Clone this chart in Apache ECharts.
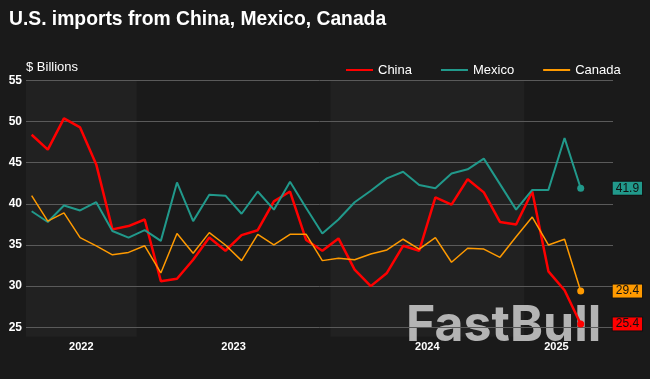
<!DOCTYPE html>
<html>
<head>
<meta charset="utf-8">
<script src="https://cdn.jsdelivr.net/npm/echarts@6/dist/echarts.min.js"></script>
<style>
html,body{margin:0;padding:0;background:#1a1a1a;}
#chart{width:650px;height:379px;}
</style>
</head>
<body>
<div id="chart"></div>
<script>
// ---- data ----
var months = ['2022-06','2022-07','2022-08','2022-09','2022-10','2022-11','2022-12',
  '2023-01','2023-02','2023-03','2023-04','2023-05','2023-06','2023-07','2023-08','2023-09','2023-10','2023-11','2023-12',
  '2024-01','2024-02','2024-03','2024-04','2024-05','2024-06','2024-07','2024-08','2024-09','2024-10','2024-11','2024-12',
  '2025-01','2025-02','2025-03','2025-04'];
var china  = [48.4,46.6,50.4,49.3,44.8,36.9,37.3, 38.1,30.6,30.9,33.2,35.9,34.3,36.2,36.8,40.3,41.5,35.6,34.3, 35.8,32.0,30.0,31.6,34.9,34.3,40.8,39.9,43.0,41.4,37.8,37.5, 41.5,31.8,29.5,25.4];
var mexico = [39.1,37.8,39.8,39.2,40.2,36.7,35.9, 36.8,35.5,42.6,37.9,41.1,41.0,38.8,41.5,39.3,42.7,39.5,36.4, 38.1,40.2,41.6,43.1,43.9,42.3,41.9,43.7,44.2,45.5,42.4,39.3, 41.7,41.7,48.0,41.9];
var canada = [41.0,37.9,38.9,35.9,34.9,33.8,34.1, 34.9,31.6,36.4,34.0,36.5,35.0,33.1,36.3,35.0,36.3,36.3,33.1, 33.4,33.2,33.9,34.4,35.7,34.5,35.9,32.9,34.6,34.5,33.5,36.0, 38.4,35.0,35.7,29.4];
var seriesNames = ['China','Mexico','Canada'];
var yTicks = [25,30,35,40,45,50,55];

// ---- layout/styling ----
var X_MIN = -0.35, X_MAX = 36;
var colors = {China:'#ff0000', Mexico:'#21998b', Canada:'#ff9a00'};
var widths = {China:2.5, Mexico:2, Canada:1.5};

// year bands derived from months
var years = [];
months.forEach(function(m, i){
  var y = m.slice(0,4);
  var last = years[years.length-1];
  if (!last || last.year !== y) years.push({year:y, first:i, last:i});
  else last.last = i;
});
years.forEach(function(b){
  b.from = Math.max(X_MIN, b.first - 0.5);
  b.to = Math.min(X_MAX, b.last + 0.5);
  b.mid = (b.from + b.to) / 2;
});
var yearMids = years.map(function(b){ return b.mid; });

function toPairs(arr){ return arr.map(function(v,i){ return [i, v]; }); }
var dataMap = {China:china, Mexico:mexico, Canada:canada};

var series = [{
  name: 'bands', type: 'line', data: [], z: -3, silent: true,
  markArea: {
    silent: true, z: -3,
    itemStyle: {color: '#212121'},
    data: years.filter(function(b, i){ return i % 2 === 0; }).map(function(b){
      return [{xAxis: b.from}, {xAxis: b.to}];
    })
  }
}];
seriesNames.forEach(function(name, si){
  var arr = dataMap[name];
  series.push({
    name: name,
    type: 'line',
    data: toPairs(arr),
    symbol: 'circle',
    symbolSize: function(val, p){ return p.dataIndex === arr.length-1 ? 7 : 0; },
    showSymbol: true,
    lineStyle: {color: colors[name], width: widths[name]},
    itemStyle: {color: colors[name]},
    z: 3 + si,
    endLabel: {
      show: true,
      distance: 32,
      formatter: function(p){ return p.value[1].toFixed(1); },
      color: '#111',
      fontSize: 12,
      fontFamily: 'Liberation Sans, Arial, sans-serif',
      backgroundColor: colors[name],
      borderColor: 'rgba(0,0,0,0.35)',
      borderWidth: 1,
      padding: [1, 3, 0, 3],
      lineHeight: 12
    }
  });
});

var chart = echarts.init(document.getElementById('chart'), null, {renderer:'canvas'});
chart.setOption({
  animation: false,
  backgroundColor: '#1a1a1a',
  textStyle: {fontFamily: 'Liberation Sans, Arial, sans-serif'},
  title: {
    text: 'U.S. imports from China, Mexico, Canada',
    left: 9, top: 10, padding: 0,
    textStyle: {color:'#ffffff', fontSize: 19.3, fontWeight: 'bold', fontFamily: 'Liberation Sans, Arial, sans-serif'}
  },
  legend: {
    data: seriesNames,
    left: 346, top: 63.5, padding: 0,
    icon: 'rect', itemWidth: 27, itemHeight: 2, itemGap: 29,
    textStyle: {color:'#ffffff', fontSize: 13},
    selectedMode: false
  },
  graphic: [
    {type:'text', left: 26, top: 61, style:{text:'$ Billions', fill:'#ffffff', font:'13px "Liberation Sans", Arial, sans-serif'}},
    {type:'text', left: 406, top: 301, z: -2, silent: true,
     style:{text:'FastBull', fill:'rgba(200,200,200,0.88)', font:'bold 50px Inter, "Liberation Sans", sans-serif'}}
  ],
  grid: {left: 26, right: 37, top: 80.5, bottom: 42.3},
  xAxis: {
    type: 'value', min: X_MIN, max: X_MAX,
    axisLine: {show:false}, axisTick: {show:false}, splitLine: {show:false},
    axisLabel: {
      customValues: yearMids,
      formatter: function(v){
        for (var i=0;i<years.length;i++){ if (Math.abs(years[i].mid - v) < 1e-6) return years[i].year; }
        return '';
      },
      color:'#ffffff', fontSize: 11, fontWeight:'bold', margin: 5
    }
  },
  yAxis: {
    type: 'value', min: 23.85, max: 55, minInterval: 5, maxInterval: 5,
    axisLine: {show:false}, axisTick: {show:false},
    splitLine: {show:true, showMinLine:false, lineStyle:{color:'#5a5a5a', width:1}},
    axisLabel: {color:'#ffffff', fontSize: 12, fontWeight:'bold', margin: 4, showMinLabel:false,
      formatter: function(v){ return yTicks.indexOf(v) >= 0 ? String(v) : ''; }}
  },
  series: series
});
</script>
</body>
</html>
